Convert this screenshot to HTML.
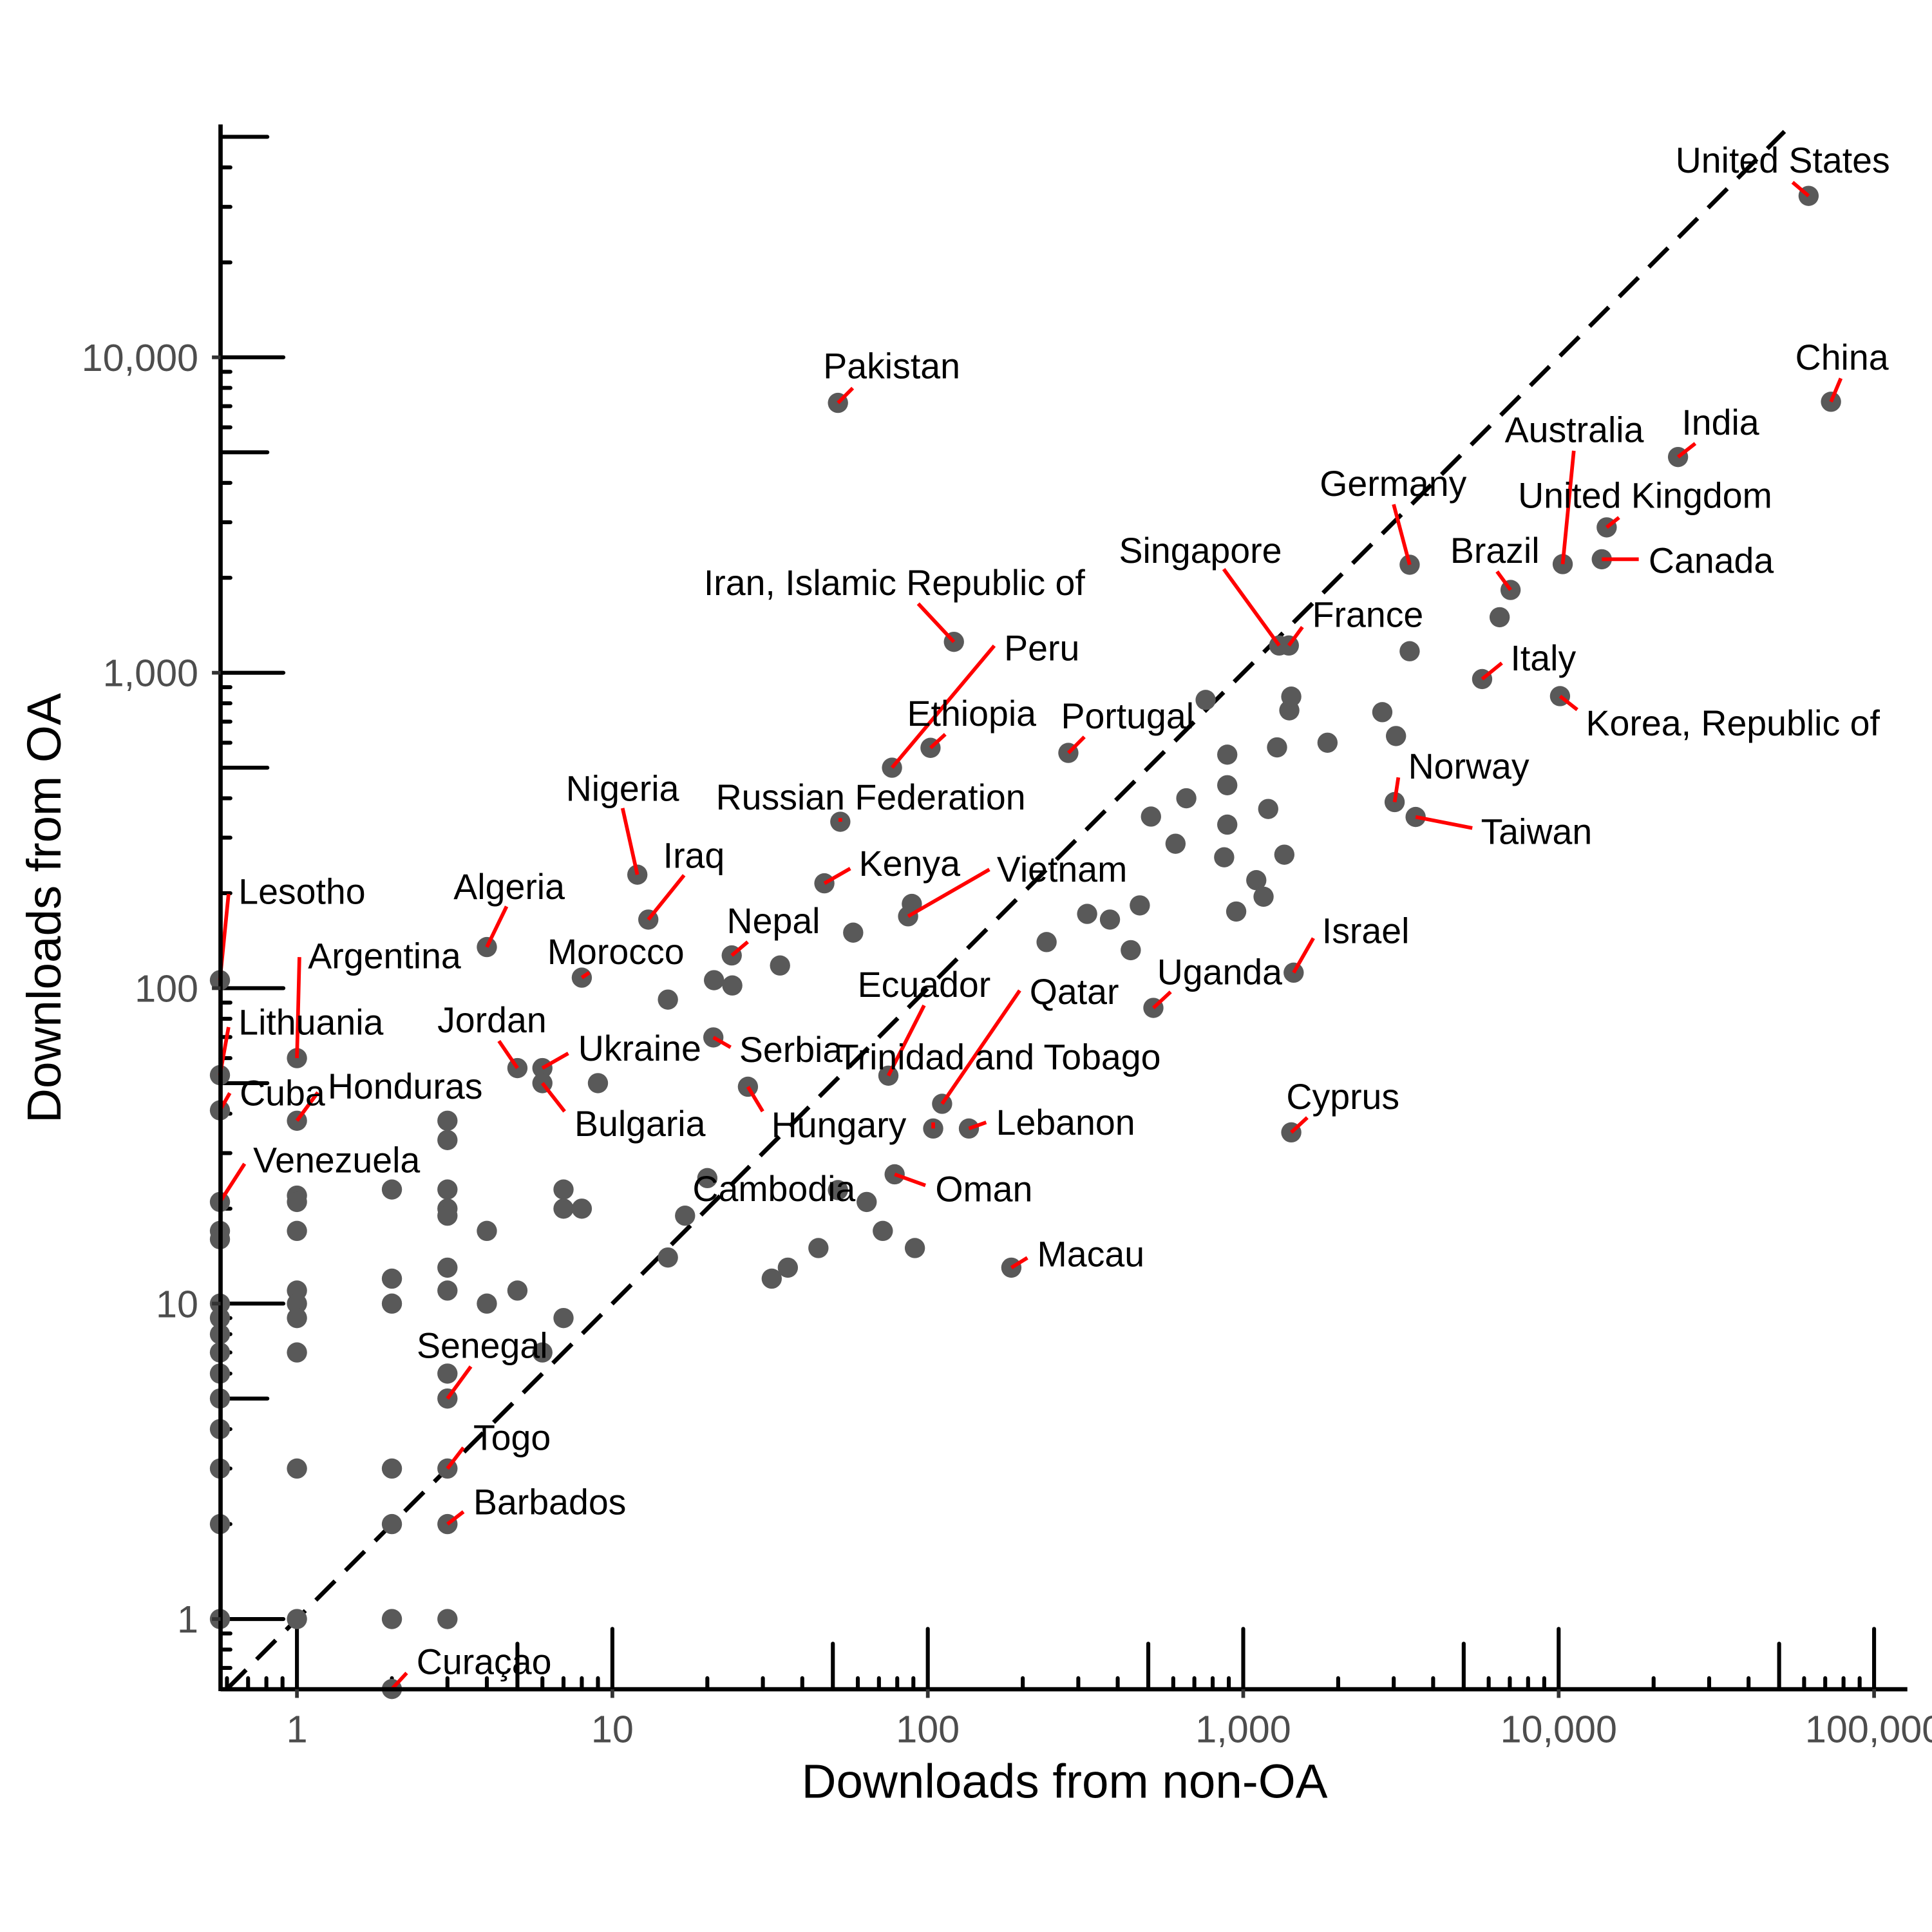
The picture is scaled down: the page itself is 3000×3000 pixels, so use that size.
<!DOCTYPE html>
<html><head><meta charset="utf-8">
<style>
html,body{margin:0;padding:0;background:#fff;}
svg{display:block;}
text{font-family:"Liberation Sans",Arial,sans-serif;}
</style></head>
<body>
<svg id="chart" width="3000" height="3000" viewBox="0 0 1568 1568" xmlns="http://www.w3.org/2000/svg">
  <rect x="0" y="0" width="1568" height="1568" fill="#fff"/>
  <g id="ticks"></g>
  <g id="dash"></g>
  <g id="points"></g>
  <g id="segs"></g>
  <g id="labels"></g>
  <g id="axes"></g>
  <text x="864" y="1459" text-anchor="middle" font-size="39" fill="#000">Downloads from non-OA</text>
  <text transform="translate(49,737) rotate(-90)" text-anchor="middle" font-size="39" fill="#000">Downloads from OA</text>
</svg>
<script>
// ---- data ----
const labelNames = ["United States","China","India","Australia","Germany","United Kingdom","Brazil","Canada","Singapore","Iran, Islamic Republic of","France","Peru","Italy","Ethiopia","Portugal","Korea, Republic of","Norway","Russian Federation","Nigeria","Taiwan","Iraq","Kenya","Vietnam","Lesotho","Algeria","Nepal","Israel","Argentina","Morocco","Uganda","Ecuador","Qatar","Lithuania","Jordan","Ukraine","Serbia","Trinidad and Tobago","Cuba","Honduras","Cyprus","Bulgaria","Hungary","Lebanon","Venezuela","Cambodia","Oman","Macau","Senegal","Togo","Barbados","Curaçao","Pakistan"];
const labelNonOA = [62000,73000,23900,10300,3370,14200,7040,13700,1300,121,1395,77,5720,102,279,10100,3020,52.8,12,3520,13,47,86.6,0.57,4,23.9,1445,1,8,519,75,111,0.57,5,6,20.9,104,0.57,1,1420,6,26.9,135,0.57,51.9,78.5,184,3,3,3,2,51.9];
const labelOA = [32500,7230,4830,2210,2200,2890,1830,2290,1220,1253,1220,500,955,578,557,843,389,337,229,349,165,215,169,106,135,127,112,60,108,86.6,52.8,43,53,55.8,55.8,69.8,35.9,41,38,34.9,50,48.7,35.9,21,22.9,25.7,13,5,3,2,0.6,7170];
// layout offsets (pixels relative to point): text dx,dy ; leader end dx,dy
const labelLayout = [[-108,-29,-13,-11],[-29,-36,8,-19],[3,-28,14,-11],[-47,-109,9,-92],[-73,-66,-13,-49],[-72,-26,10,-8],[-49,-32,-11,-15],[38,1,30,0],[-130,-77,-45,-62],[-203,-48,-29,-31],[19,-25,11,-15],[91,-97,83,-99],[23,-17,16,-13],[-19,-28,12,-11],[-6,-30,13,-13],[21,22,14,11],[11,-29,3,-20],[-101,-20,0,-3],[-58,-70,-12,-54],[53,12,46,9],[12,-52,29,-36],[28,-16,21,-12],[72,-38,66,-38],[15,-72,7,-70],[-27,-49,16,-33],[-4,-28,13,-11],[23,-34,16,-28],[9,-83,2,-82],[-28,-21,6,-4],[3,-29,14,-13],[-25,-74,29,-57],[71,-91,63,-92],[15,-43,7,-39],[-65,-39,-15,-22],[29,-16,21,-12],[21,10,14,8],[-78,-58,0,-5],[16,-14,8,-14],[25,-28,17,-23],[-4,-29,13,-12],[26,33,18,23],[19,31,12,20],[22,-5,14,-5],[27,-34,20,-31],[-118,-1,0,0],[33,12,25,9],[21,-11,13,-8],[-25,-43,19,-26],[21,-25,13,-17],[21,-18,13,-10],[20,-22,12,-13],[-12,-30,12,-12]];
const otherNonOA = [0.57,0.57,0.57,0.57,0.57,0.57,0.57,0.57,0.57,0.57,0.57,0.57,
 1,1,1,1,1,1,1,1,1,
 2,2,2,2,2,2,
 3,3,3,3,3,3,3,3,3,
 4,4,5,6,7,7,7,8,9,
 15,15,17,20,21,24,34,32,36,45,58,64,72,91,89,
 238,320,378,440,470,510,610,660,760,870,890,890,890,950,1100,1160,1200,1280,1350,1400,1420,1850,2760,3050,3370,6500];
const otherOA = [17,16,10,9,8,7,6,5,4,3,2,1,
 22,21,17,11,10,9,7,3,1,
 23,12,10,3,2,1,
 38,33,23,20,19,13,11,6,1,
 17,10,11,7,23,20,9,20,50,
 92,14,19,25,106,102,118,12,13,15,150,21,17,15,185,
 140,172,165,132,183,350,287,400,820,260,550,440,330,175,220,195,370,580,265,760,840,600,750,630,1170,1500];
const xTickValues = [1,10,100,1000,10000,100000];
const xTickLabels = ["1","10","100","1,000","10,000","100,000"];
const yTickValues = [1,10,100,1000,10000];
const yTickLabels = ["1","10","100","1,000","10,000"];

// ---- scales ----
const NS = "http://www.w3.org/2000/svg";
const X0 = 241, Y0 = 1314, DEC = 256;
const AX_L = 179, AX_R = 1548, AX_B = 1371, AX_T = 101;
function xs(v){ return X0 + DEC*Math.log10(v); }
function ys(v){ return Y0 - DEC*Math.log10(v); }
function mk(tag, attrs, parent){ const e=document.createElementNS(NS,tag); for(const k in attrs) e.setAttribute(k,attrs[k]); parent.appendChild(e); return e; }

const gT = document.getElementById('ticks');
for (let d=-1; d<=5; d++){
  for (let k=1; k<=9; k++){
    const v = k*Math.pow(10,d); const x = xs(v);
    if (x < AX_L+4 || x > AX_R-2) continue;
    const top = k===1 ? 1322 : (k===5 ? 1334 : 1362);
    const t = mk('line',{x1:x,x2:x,y1:AX_B,y2:top,stroke:'#000','stroke-width':3.2,'stroke-linecap':'round'},gT);
    
    
  }
}
for (let d=-1; d<=4; d++){
  for (let k=1; k<=9; k++){
    const v = k*Math.pow(10,d); const y = ys(v);
    if (y > AX_B-4 || y < AX_T+2) continue;
    const right = k===1 ? 230 : (k===5 ? 217 : 187);
    const t = mk('line',{x1:AX_L,x2:right,y1:y,y2:y,stroke:'#000','stroke-width':3.2,'stroke-linecap':'round'},gT);
    
    
  }
}
const gD = document.getElementById('dash');
const dl = mk('line',{x1:xs(0.6),y1:ys(0.6),x2:xs(52000),y2:ys(52000),stroke:'#000','stroke-width':3.5,'stroke-dasharray':'22 12'},gD);



const gP = document.getElementById('points');
for (let i=0;i<otherNonOA.length;i++){
  const c = mk('circle',{cx:xs(otherNonOA[i]),cy:ys(otherOA[i]),r:8.2,fill:'#595959'},gP);
  
  
}
for (let i=0;i<labelNames.length;i++){
  const c = mk('circle',{cx:xs(labelNonOA[i]),cy:ys(labelOA[i]),r:8.2,fill:'#595959'},gP);
  
  
}
const gS = document.getElementById('segs'), gL = document.getElementById('labels');
for (let i=0;i<labelNames.length;i++){
  const px = xs(labelNonOA[i]), py = ys(labelOA[i]); const L = labelLayout[i];
  if (L[2]!==0 || L[3]!==0){
    const s = mk('line',{x1:px,y1:py,x2:px+L[2],y2:py+L[3],stroke:'#ff0000','stroke-width':3},gS);
    
    
  }
  const t = mk('text',{x:px+L[0],y:py+L[1]+10,'font-size':29,fill:'#000'},gL);
  t.textContent = labelNames[i];
  
  
}
const gA = document.getElementById('axes');
const xa = mk('line',{x1:AX_L,x2:AX_R,y1:AX_B,y2:AX_B,stroke:'#000','stroke-width':3.5},gA);


const ya = mk('line',{x1:AX_L,x2:AX_L,y1:AX_T,y2:AX_B+1.5,stroke:'#000','stroke-width':3.5},gA);


for (let i=0;i<xTickValues.length;i++){
  const x = xs(xTickValues[i]);
  const tk = mk('line',{x1:x,x2:x,y1:AX_B,y2:AX_B+7,stroke:'#333','stroke-width':3},gA);
  
  
  const t = mk('text',{x:x,y:1414,'text-anchor':'middle','font-size':31,fill:'#4d4d4d'},gA);
  t.textContent = xTickLabels[i];
  
  
}
for (let i=0;i<yTickValues.length;i++){
  const y = ys(yTickValues[i]);
  const tk = mk('line',{x1:AX_L-7,x2:AX_L,y1:y,y2:y,stroke:'#333','stroke-width':3},gA);
  
  
  const t = mk('text',{x:161,y:y+11,'text-anchor':'end','font-size':31,fill:'#4d4d4d'},gA);
  t.textContent = yTickLabels[i];
  
  
}
</script>
</body></html>
